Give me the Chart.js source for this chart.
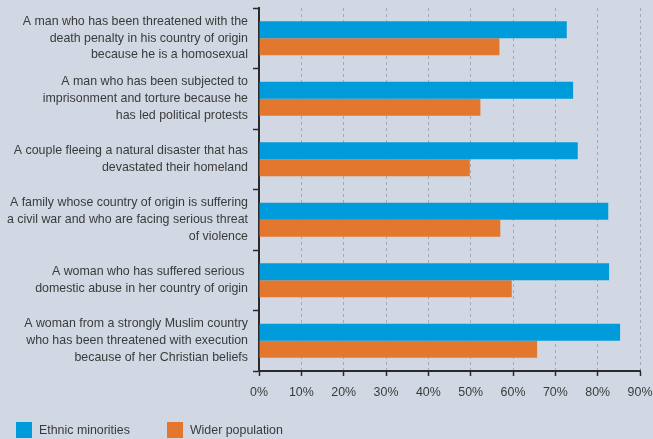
<!DOCTYPE html>
<html>
<head>
<meta charset="utf-8">
<script src="https://cdn.jsdelivr.net/npm/chart.js@4/dist/chart.umd.min.js"></script>
<style>
  body { margin: 0; background: #d1d8e3; }
  #wrap { position: relative; width: 653px; height: 439px; }
  #legend { position: absolute; left: 16px; top: 421px; display: flex; font: 12.4px "Liberation Sans", Arial, sans-serif; color: #3a3a3a; }
  .item { display: flex; align-items: center; height: 17px; }
  .box { width: 16px; height: 16px; margin-right: 7px; }
</style>
</head>
<body>
<div id="wrap">
  <canvas id="chart" width="653" height="439"></canvas>
  <div id="legend"></div>
</div>
<script>
// 質問項目
const categories = [
    ['A man who has been threatened with the', 'death penalty in his country of origin', 'because he is a homosexual'],
    ['A man who has been subjected to', 'imprisonment and torture because he', 'has led political protests'],
    ['A couple fleeing a natural disaster that has', 'devastated their homeland'],
    ['A family whose country of origin is suffering', 'a civil war and who are facing serious threat', 'of violence'],
    ['A woman who has suffered serious ', 'domestic abuse in her country of origin'],
    ['A woman from a strongly Muslim country', 'who has been threatened with execution', 'because of her Christian beliefs']
];

// 系列データ (%)
const ethnicMinorities = [72.7, 74.2, 75.3, 82.5, 82.7, 85.3];
const widerPopulation = [56.8, 52.3, 49.8, 57.0, 59.7, 65.7];

const seriesNames = ['Ethnic minorities', 'Wider population'];
const seriesColors = ['#009bdb', '#e3772e'];

// 軸目盛
const xTicks = [0, 10, 20, 30, 40, 50, 60, 70, 80, 90];

const fontFamily = '"Liberation Sans", Arial, sans-serif';
const axisColor = '#2a2a2a';

new Chart(document.getElementById('chart'), {
    type: 'bar',
    data: {
        labels: categories,
        datasets: [
            { label: seriesNames[0], data: ethnicMinorities, backgroundColor: seriesColors[0] },
            { label: seriesNames[1], data: widerPopulation, backgroundColor: seriesColors[1] }
        ]
    },
    options: {
        indexAxis: 'y',
        responsive: false,
        animation: false,
        datasets: {
            bar: { categoryPercentage: 0.565, barPercentage: 1.0 }
        },
        layout: { padding: { top: 8, right: 13, bottom: 38, left: 0 } },
        plugins: {
            legend: { display: false },
            tooltip: { enabled: false }
        },
        scales: {
            x: {
                min: 0,
                max: 90,
                afterBuildTicks: scale => { scale.ticks = xTicks.map(v => ({ value: v })); },
                afterFit: scale => {
                    scale.height = 30;
                    scale.paddingLeft = 0;
                    scale.paddingRight = 0;
                },
                grid: {
                    color: '#a4aab3',
                    lineWidth: 1,
                    tickLength: 5,
                    tickColor: axisColor,
                    tickWidth: 1.5
                },
                border: { display: true, color: axisColor, width: 2, dash: [3, 3] },
                ticks: {
                    padding: 9,
                    color: '#3a3a3a',
                    font: { family: fontFamily, size: 12.4 },
                    callback: v => v + '%'
                }
            },
            y: {
                afterFit: scale => {
                    scale.width = 259;
                    scale.paddingTop = 0;
                    scale.paddingBottom = 0;
                },
                grid: {
                    drawOnChartArea: false,
                    tickLength: 6,
                    tickColor: axisColor,
                    tickWidth: 1.5
                },
                border: { display: true, color: axisColor, width: 2 },
                ticks: {
                    padding: 5,
                    color: '#3a3a3a',
                    font: { family: fontFamily, size: 12.4, lineHeight: 1.35 }
                }
            }
        }
    }
});

// 凡例
const legend = document.getElementById('legend');
seriesNames.forEach((name, i) => {
    const item = document.createElement('div');
    item.className = 'item';
    item.style.marginRight = i === 0 ? '37px' : '0';
    item.innerHTML = `<span class="box" style="background:${seriesColors[i]}"></span><span>${name}</span>`;
    legend.appendChild(item);
});
</script>
</body>
</html>
